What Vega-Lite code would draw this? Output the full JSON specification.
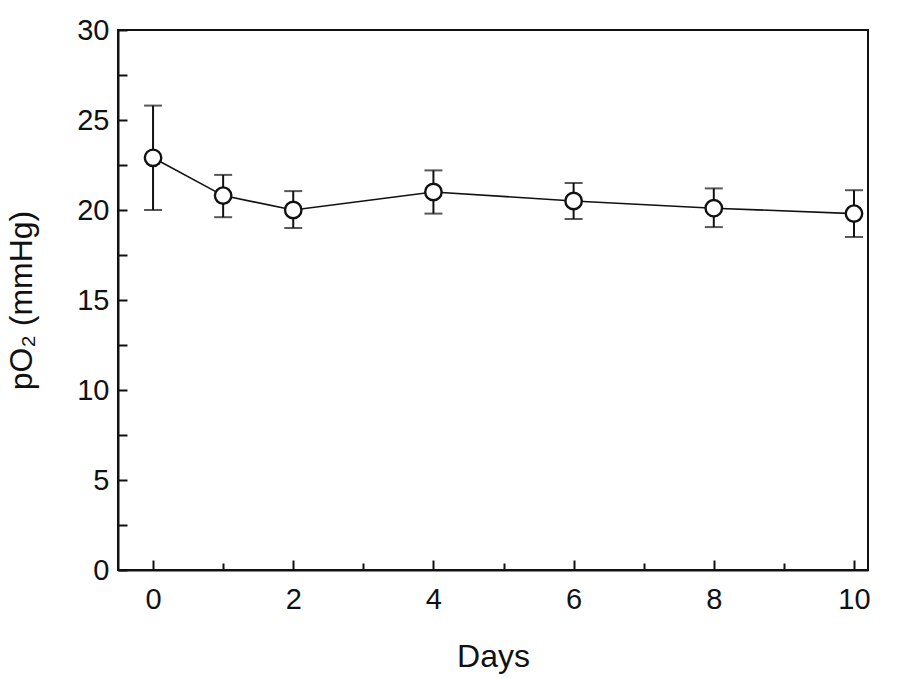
{
  "$schema": "https://vega.github.io/schema/vega-lite/v6.json",
  "width": 750,
  "height": 540,
  "autosize": "none",
  "padding": {"left": 118, "top": 30, "right": 32, "bottom": 108},
  "background": "white",
  "config": {
    "view": {"stroke": "#111", "strokeWidth": 2},
    "font": "Liberation Sans",
    "axis": {
      "grid": false,
      "domainColor": "#111",
      "domainWidth": 2,
      "tickColor": "#111",
      "tickWidth": 2,
      "labelColor": "#111",
      "titleColor": "#111",
      "labelFont": "Liberation Sans",
      "titleFont": "Liberation Sans",
      "labelFontSize": 29,
      "titleFontSize": 32,
      "titleFontWeight": "normal"
    }
  },
  "data": {
    "values": [
      {"day": 0, "mean": 22.9, "lo": 20.0, "hi": 25.8},
      {"day": 1, "mean": 20.8, "lo": 19.6, "hi": 21.95},
      {"day": 2, "mean": 20.0, "lo": 19.0, "hi": 21.05},
      {"day": 4, "mean": 21.0, "lo": 19.8, "hi": 22.2},
      {"day": 6, "mean": 20.5, "lo": 19.5, "hi": 21.5},
      {"day": 8, "mean": 20.1, "lo": 19.05, "hi": 21.2},
      {"day": 10, "mean": 19.8, "lo": 18.5, "hi": 21.1}
    ]
  },
  "encoding": {
    "x": {
      "field": "day",
      "type": "quantitative",
      "scale": {"domain": [-0.5, 10.2], "nice": false, "zero": false},
      "axis": {
        "title": "Days",
        "values": [0, 1, 2, 3, 4, 5, 6, 7, 8, 9, 10],
        "labelExpr": "datum.value % 2 === 0 ? datum.label : ''",
        "tickSize": {"condition": {"test": "datum.value % 2 === 0", "value": -10}, "value": -7},
        "labelPadding": 25,
        "titlePadding": 27
      }
    }
  },
  "layer": [
    {
      "mark": {"type": "rule", "color": "#111", "strokeWidth": 2},
      "encoding": {
        "y": {
          "field": "lo",
          "type": "quantitative",
          "scale": {"domain": [0, 30], "nice": false},
          "axis": {
            "title": "pO₂ (mmHg)",
            "values": [0, 2.5, 5, 7.5, 10, 12.5, 15, 17.5, 20, 22.5, 25, 27.5, 30],
            "labelExpr": "datum.value % 5 === 0 ? datum.label : ''",
            "tickSize": -9,
            "labelPadding": 18,
            "titlePadding": 38
          }
        },
        "y2": {"field": "hi"}
      }
    },
    {
      "mark": {"type": "tick", "orient": "horizontal", "color": "#111", "thickness": 2, "size": 18},
      "encoding": {"y": {"field": "lo", "type": "quantitative"}}
    },
    {
      "mark": {"type": "tick", "orient": "horizontal", "color": "#111", "thickness": 2, "size": 18},
      "encoding": {"y": {"field": "hi", "type": "quantitative"}}
    },
    {
      "mark": {"type": "line", "color": "#111", "strokeWidth": 1.6},
      "encoding": {"y": {"field": "mean", "type": "quantitative"}}
    },
    {
      "mark": {"type": "point", "shape": "circle", "filled": true, "fill": "white", "stroke": "#111", "strokeWidth": 2.4, "size": 270, "opacity": 1},
      "encoding": {"y": {"field": "mean", "type": "quantitative"}}
    }
  ]
}
